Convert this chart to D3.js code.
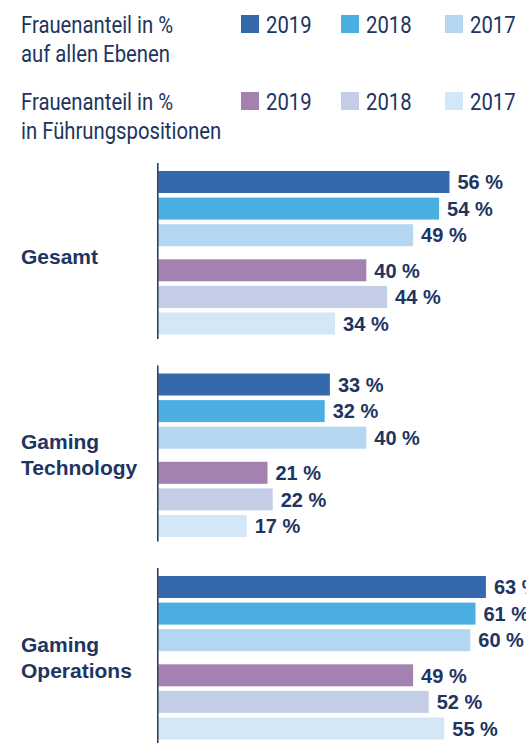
<!DOCTYPE html>
<html>
<head>
<meta charset="utf-8">
<script src="https://cdn.jsdelivr.net/npm/d3@7"></script>
<style>
  body { margin: 0; background: #fff; }
  svg { display: block; }
</style>
</head>
<body>
<svg id="chart"></svg>
<script>
// Daten
const categories = ["Gesamt", "Gaming\nTechnology", "Gaming\nOperations"];
const seriesKeys = ["alle2019", "alle2018", "alle2017", "fuehrung2019", "fuehrung2018", "fuehrung2017"];
const seriesYears = ["2019", "2018", "2017", "2019", "2018", "2017"];
const alle2019 = [56, 33, 63];
const alle2018 = [54, 32, 61];
const alle2017 = [49, 40, 60];
const fuehrung2019 = [40, 21, 49];
const fuehrung2018 = [44, 22, 52];
const fuehrung2017 = [34, 17, 55];
const legendTitles = [["Frauenanteil in %", "auf allen Ebenen"], ["Frauenanteil in %", "in Führungspositionen"]];

const seriesValues = [alle2019, alle2018, alle2017, fuehrung2019, fuehrung2018, fuehrung2017];
const colors = ["#346aab", "#4aaee1", "#b4d6f1", "#a381b0", "#c3cde6", "#d4e7f7"];
const textColor = "#1d355f";

const width = 526;
const height = 743;

const svg = d3.select("#chart")
    .attr("width", width)
    .attr("height", height);

// Skalen
const x = d3.scaleLinear()
    .domain([0, 100])
    .range([158.3, 678.3]);

const yGroup = d3.scaleBand()
    .domain(categories)
    .range([171, 171 + 3 * 202.5]);

const yInner = d3.scaleBand()
    .domain(seriesKeys)
    .range([0, 155])
    .paddingInner(0.173);

// Abstand zwischen den beiden Blöcken (alle Ebenen / Führung)
const blockGap = 8.5;
const barY = (cat, i) => yGroup(cat) + yInner(seriesKeys[i]) + (i >= 3 ? blockGap : 0);

// Legende (schmale Schrift, horizontal gestaucht)
const squeeze = 0.845;
function legendText(g, tx, ty, str) {
    g.append("text")
        .attr("transform", `translate(${tx},${ty}) scale(${squeeze},1)`)
        .attr("fill", textColor)
        .style("font-family", "Roboto, sans-serif")
        .style("font-weight", 400)
        .style("font-size", "24px")
        .text(str);
}

const legend = svg.append("g");
legendTitles.forEach((lines, r) => {
    const baseY = r === 0 ? 33 : 110;
    lines.forEach((l, i) => legendText(legend, 21, baseY + i * 29, l));

    [0, 1, 2].forEach(k => {
        const idx = r * 3 + k;
        const lx = [241, 341, 445][k];
        legend.append("rect")
            .attr("x", lx)
            .attr("y", baseY - 18)
            .attr("width", 18)
            .attr("height", 18)
            .attr("fill", colors[idx]);
        legendText(legend, lx + 25, baseY, seriesYears[idx]);
    });
});

// Balken
const bars = [];
categories.forEach((cat, c) => {
    seriesKeys.forEach((key, i) => {
        bars.push({ cat: cat, i: i, value: seriesValues[i][c] });
    });
});

svg.selectAll(".bar")
    .data(bars)
    .enter()
    .append("rect")
    .attr("class", "bar")
    .attr("x", x(0))
    .attr("y", d => barY(d.cat, d.i))
    .attr("width", d => x(d.value) - x(0))
    .attr("height", yInner.bandwidth())
    .attr("fill", d => colors[d.i]);

// Werte an den Balken
svg.selectAll(".label")
    .data(bars)
    .enter()
    .append("text")
    .attr("class", "label")
    .attr("x", d => x(d.value) + 8)
    .attr("y", d => barY(d.cat, d.i) + yInner.bandwidth() / 2 + 7.3)
    .attr("fill", textColor)
    .style("font-family", "'Liberation Sans', Arial, sans-serif")
    .style("font-weight", "bold")
    .style("font-size", "20px")
    .text(d => d.value + " %");

// Achsenlinie je Gruppe
svg.selectAll(".axis-line")
    .data(categories)
    .enter()
    .append("line")
    .attr("class", "axis-line")
    .attr("x1", x(0) - 0.5)
    .attr("x2", x(0) - 0.5)
    .attr("y1", d => yGroup(d) - 8)
    .attr("y2", d => yGroup(d) + 168)
    .attr("stroke", textColor)
    .attr("stroke-width", 1.5);

// Kategorien
svg.selectAll(".cat")
    .data(categories)
    .enter()
    .append("text")
    .attr("class", "cat")
    .attr("fill", textColor)
    .style("font-family", "'Liberation Sans', Arial, sans-serif")
    .style("font-weight", "bold")
    .style("font-size", "21px")
    .each(function(d) {
        const lines = d.split("\n");
        const first = yGroup(d) + 93 - (lines.length - 1) * 17.5;
        d3.select(this).selectAll("tspan")
            .data(lines)
            .enter()
            .append("tspan")
            .attr("x", 21)
            .attr("y", (l, i) => first + i * 26)
            .text(l => l);
    });
</script>
</body>
</html>
